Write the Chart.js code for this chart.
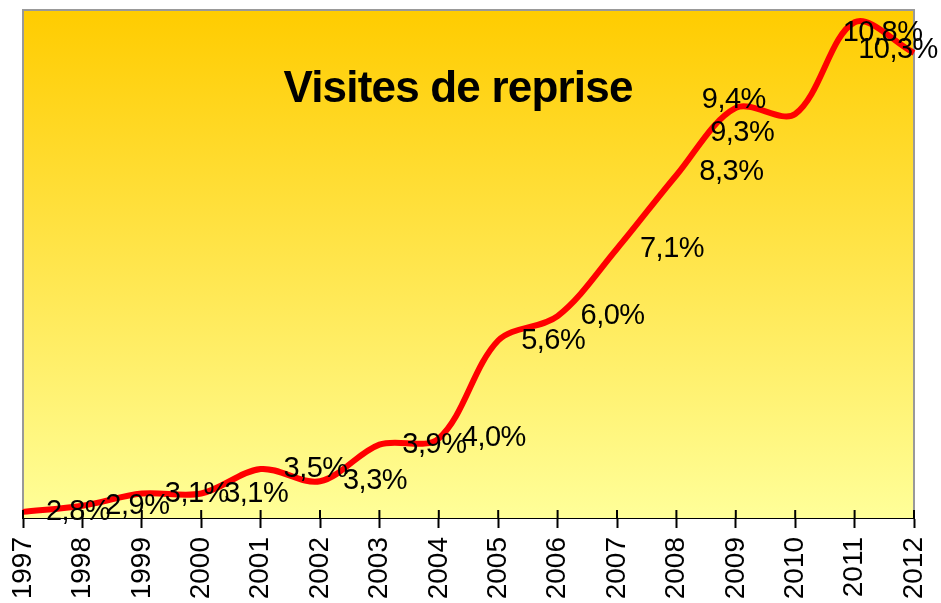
<!DOCTYPE html>
<html>
<head>
<meta charset="utf-8">
<title>Visites de reprise</title>
<script src="https://cdn.jsdelivr.net/npm/chart.js@4/dist/chart.umd.min.js"></script>
<style>
    body { margin: 0; background: #fff; }
    #wrap { width: 941px; height: 603px; }
</style>
</head>
<body>
<div id="wrap"><canvas id="chart" width="941" height="603"></canvas></div>
<script>
// Data
const years = ['1997', '1998', '1999', '2000', '2001', '2002', '2003', '2004',
               '2005', '2006', '2007', '2008', '2009', '2010', '2011', '2012'];
const visites = [2.8, 2.9, 3.1, 3.1, 3.5, 3.3, 3.9, 4.0, 5.6, 6.0, 7.1, 8.3, 9.4, 9.3, 10.8, 10.3];
const yRange = [2.7, 11];

// label placement (px, relative to the usual "right of point" spot)
const labelNudge = [[0, 0], [0, 0], [0, 0], [0, 0], [0, 0], [0, 0], [0, 0], [0, 0],
                    [0, 0], [0, 0], [0, 0], [0, -3], [-57, -8], [-108, 19], [-27, 11], [-71, -3]];

const fmtPct = v => v.toFixed(1).replace('.', ',') + '%';

/**
 * Plot area: gradient fill + grey frame, title, value labels, crossing ticks
 */
const plotDecor = {
    id: 'plotDecor',
    beforeDatasetsDraw(chart) {
        const { ctx, chartArea: a } = chart;
        const g = ctx.createLinearGradient(0, a.top, 0, a.bottom);
        g.addColorStop(0, '#FFCC00');
        g.addColorStop(1, '#FFFF99');
        ctx.save();
        ctx.fillStyle = g;
        ctx.fillRect(a.left, a.top, a.right - a.left, a.bottom - a.top);
        ctx.strokeStyle = '#999';
        ctx.lineWidth = 2;
        ctx.beginPath();
        ctx.moveTo(a.left, a.bottom);
        ctx.lineTo(a.left, a.top);
        ctx.lineTo(a.right, a.top);
        ctx.lineTo(a.right, a.bottom);
        ctx.stroke();

        // title
        ctx.fillStyle = '#000';
        ctx.font = 'bold 44px "Liberation Sans", Arial, sans-serif';
        ctx.letterSpacing = '-0.8px';
        ctx.textAlign = 'center';
        ctx.textBaseline = 'alphabetic';
        ctx.fillText('Visites de reprise', 458, 102);
        ctx.restore();
    },
    afterDatasetsDraw(chart) {
        const { ctx, chartArea: a } = chart;
        const xs = chart.scales.x;
        const ys = chart.scales.y;
        ctx.save();
        // tick marks crossing the axis
        ctx.strokeStyle = '#000';
        ctx.lineWidth = 2;
        years.forEach((y, i) => {
            const px = xs.getPixelForValue(i);
            ctx.beginPath();
            ctx.moveTo(px, a.bottom - 8);
            ctx.lineTo(px, a.bottom);
            ctx.stroke();
        });
        // value labels
        ctx.fillStyle = '#000';
        ctx.font = '29px "Liberation Sans", Arial, sans-serif';
        ctx.letterSpacing = '-0.5px';
        ctx.textAlign = 'center';
        ctx.textBaseline = 'middle';
        visites.forEach((v, i) => {
            const px = xs.getPixelForValue(i) + 55 + labelNudge[i][0];
            const py = ys.getPixelForValue(v) + labelNudge[i][1];
            ctx.fillText(fmtPct(v), px, py);
        });
        ctx.restore();
    }
};

new Chart(document.getElementById('chart'), {
    type: 'line',
    data: {
        labels: years,
        datasets: [{
            label: 'Visites de reprise',
            data: visites,
            borderColor: '#FF0000',
            borderWidth: 6,
            pointRadius: 0,
            tension: 0.33,
            fill: false,
            clip: 8
        }]
    },
    options: {
        responsive: false,
        animation: false,
        layout: { padding: { left: 23, right: 27, top: 10, bottom: 0 } },
        plugins: {
            legend: { display: false },
            tooltip: { enabled: false },
            title: { display: false }
        },
        scales: {
            x: {
                offset: false,
                afterFit: s => {
                    s.height = 85;
                    s.paddingLeft = 0;
                    s.paddingRight = 0;
                },
                grid: {
                    drawOnChartArea: false,
                    drawTicks: true,
                    tickLength: 10,
                    tickColor: '#000',
                    tickWidth: 2
                },
                border: { color: '#000', width: 2 },
                ticks: {
                    color: '#000',
                    font: { family: '"Liberation Sans", Arial, sans-serif', size: 28 },
                    minRotation: 90,
                    maxRotation: 90,
                    autoSkip: false,
                    padding: 9
                }
            },
            y: {
                display: false,
                min: yRange[0],
                max: yRange[1]
            }
        }
    },
    plugins: [plotDecor]
});
</script>
</body>
</html>
